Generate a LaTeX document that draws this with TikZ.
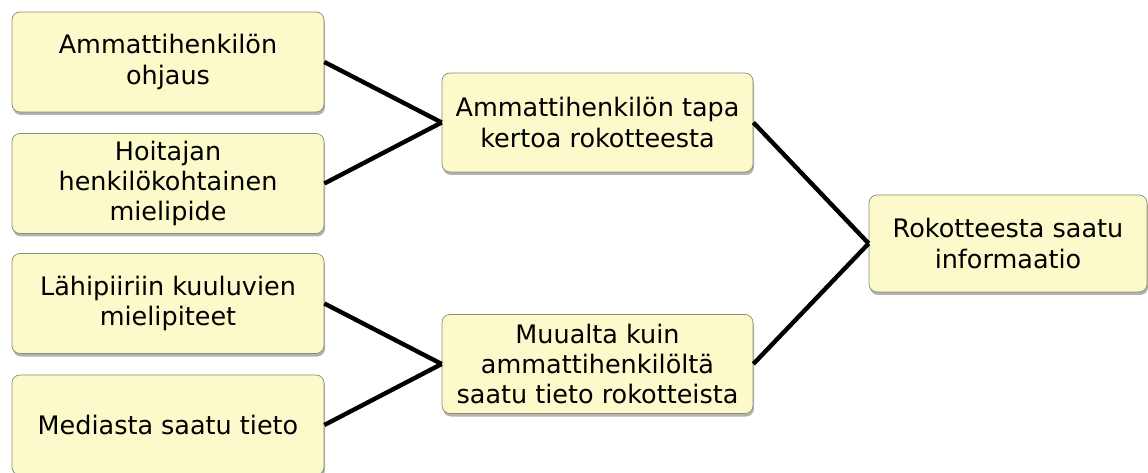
\documentclass[tikz,border=0pt]{standalone}
\usepackage{fontspec}
\setmainfont{DejaVu Sans}
\usetikzlibrary{shadows}
\definecolor{boxfill}{HTML}{FCFACB}
\definecolor{boxline}{HTML}{8C8C72}

\begin{document}
\begin{tikzpicture}[auto,
    factor/.style ={rectangle, draw=boxline, fill=boxfill, rounded corners=0.16cm,
      align=center, inner sep=0pt, font=\fontsize{14.5}{17.2}\selectfont,
      drop shadow={shadow xshift=0.02cm, shadow yshift=-0.06cm, fill=black, opacity=0.3}},
    connection/.style ={line width=2.5pt, black}]
   \useasboundingbox (0,0) rectangle (22.96,9.44);
   \node[factor, minimum width=6.24cm, minimum height=2cm] (ohjaus) at (3.36,8.2)
      {Ammattihenkilön\\ohjaus};
   \node[factor, minimum width=6.24cm, minimum height=2cm] (mielipide) at (3.36,5.77)
      {Hoitajan\\henkilökohtainen\\mielipide};
   \node[factor, minimum width=6.24cm, minimum height=2cm] (lahipiiri) at (3.36,3.37)
      {Lähipiiriin kuuluvien\\mielipiteet};
   \node[factor, minimum width=6.24cm, minimum height=2cm] (media) at (3.36,0.94)
      {Mediasta saatu tieto};
   \node[factor, minimum width=6.22cm, minimum height=1.98cm] (tapa) at (11.95,6.99)
      {Ammattihenkilön tapa\\kertoa rokotteesta};
   \node[factor, minimum width=6.22cm, minimum height=1.98cm] (muualta) at (11.95,2.16)
      {Muualta kuin\\ammattihenkilöltä\\saatu tieto rokotteista};
   \node[factor, minimum width=5.56cm, minimum height=1.94cm] (informaatio) at (20.16,4.57)
      {Rokotteesta saatu\\informaatio};
   \draw[connection] (ohjaus.east) to (tapa.west);
   \draw[connection] (mielipide.east) to (tapa.west);
   \draw[connection] (lahipiiri.east) to (muualta.west);
   \draw[connection] (media.east) to (muualta.west);
   \draw[connection] (tapa.east) to (informaatio.west);
   \draw[connection] (muualta.east) to (informaatio.west);
\end{tikzpicture}
\end{document}
